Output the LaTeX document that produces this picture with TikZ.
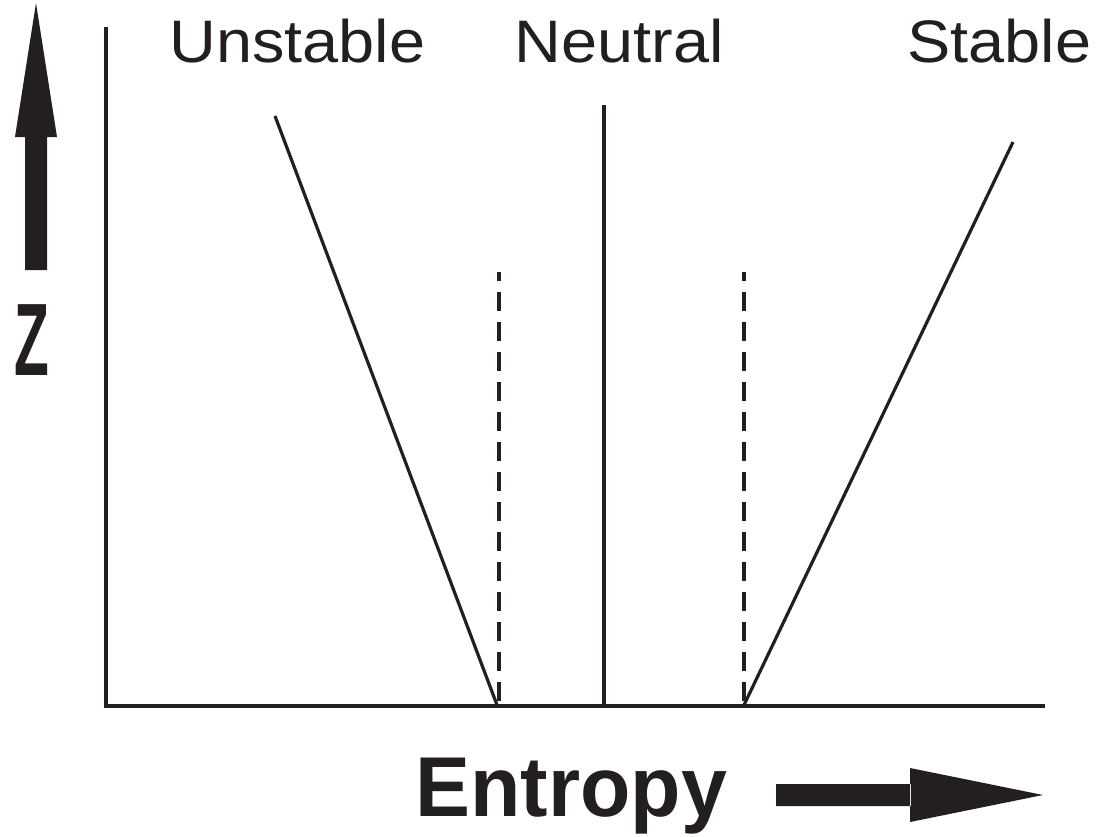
\documentclass[tikz,border=0pt]{standalone}
\usepackage{fontspec}
\setmainfont{Liberation Sans}
\newfontfamily\labelfont[FakeStretch=1.08]{Liberation Sans}
\newfontfamily\axisfont[FakeStretch=0.97]{Liberation Sans}
\usetikzlibrary{positioning}
\definecolor{ink}{HTML}{231F20}

\begin{document}
\begin{tikzpicture}[x=1pt, y=-1pt, line width=3.2pt, draw=ink,
    every node/.style={inner sep=0pt, anchor=base west, text=ink},
    case/.style={font=\labelfont\fontsize{60}{64}\selectfont},
    guide/.style={dash pattern=on 19pt off 11pt, dash phase=10pt}]
  \useasboundingbox (0,0) rectangle (1101,836);

  % axes
  \coordinate (o) at (106,706);
  \coordinate (ztop) at (106,27);
  \coordinate (xend) at (1045,706);
  \draw[line width=3.6pt] (ztop) -- (o);
  \draw[line width=3.6pt] (104,706) -- (xend);

  % labels
  \node[case] (u) at (168,62) {Unstable};
  \node[case] (n) at (513,62) {Neutral};
  \node[case] (s) at (906,62) {Stable};

  % profiles
  \coordinate (u1) at (275,116);
  \coordinate (u2) at (497,705);
  \coordinate (n1) at (604,105);
  \coordinate (n2) at (604,705);
  \coordinate (s1) at (1013,142);
  \coordinate (s2) at (744,705);
  \coordinate (d1) at (499,272);
  \coordinate (d2) at (499,705);
  \coordinate (e1) at (744,272);
  \coordinate (e2) at (744,705);
  \draw (u1) -- (u2);
  \draw (n1) -- (n2);
  \draw (s1) -- (s2);
  \draw[guide] (d1) -- (d2);
  \draw[guide] (e1) -- (e2);

  % z arrow
  \fill[ink] (25,270) rectangle (47,136)
    (15,137) -- (36,3) -- (57,137) -- cycle;
  \node[font=\axisfont\bfseries\fontsize{103}{103}\selectfont] (z) at (13,375)
    {\scalebox{0.57}[1]{Z}};

  % entropy arrow
  \node[font=\axisfont\bfseries\fontsize{85}{90}\selectfont] (ent) at (414,816) {Entropy};
  \fill[ink] (776,784) rectangle (911,806)
    (910,768) -- (1043,795) -- (910,822) -- cycle;
\end{tikzpicture}
\end{document}
